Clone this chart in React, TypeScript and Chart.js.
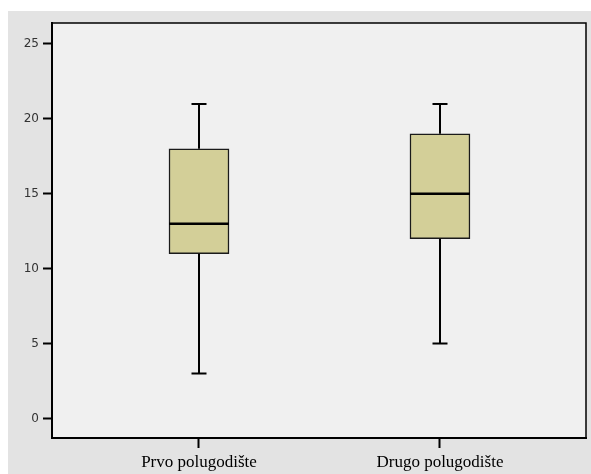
import React, { useEffect, useRef } from 'react';
import { Chart, registerables } from 'chart.js';

Chart.register(...registerables);

const categories = ['Prvo polugodište', 'Drugo polugodište'];
const minValues = [3, 5];
const q1Values = [11, 12];
const medianValues = [13, 15];
const q3Values = [18, 19];
const maxValues = [21, 21];
const yTickValues = [0, 5, 10, 15, 20, 25];

const boxPlugin = {
  id: 'boxExtras',
  beforeDraw(chart: any) {
    const { ctx, chartArea } = chart;
    ctx.save();
    ctx.fillStyle = '#f0f0f0';
    ctx.fillRect(chartArea.left, chartArea.top, chartArea.right - chartArea.left, chartArea.bottom - chartArea.top);
    ctx.restore();
  },
  afterDatasetsDraw(chart: any) {
    const { ctx } = chart;
    const xs = chart.scales.x;
    const ys = chart.scales.y;
    const meta = chart.getDatasetMeta(0);
    ctx.save();
    ctx.strokeStyle = '#000';
    categories.forEach((_, i) => {
      const cx = Math.round(xs.getPixelForValue(i + 1));
      const bar = meta.data[i];
      const half = bar ? bar.width / 2 : 30;
      ctx.lineWidth = 2;
      ctx.beginPath();
      ctx.moveTo(cx, ys.getPixelForValue(q3Values[i]));
      ctx.lineTo(cx, ys.getPixelForValue(maxValues[i]));
      ctx.moveTo(cx, ys.getPixelForValue(q1Values[i]));
      ctx.lineTo(cx, ys.getPixelForValue(minValues[i]));
      ctx.stroke();
      const capHalf = 7.5;
      ctx.beginPath();
      const yMax = ys.getPixelForValue(maxValues[i]);
      const yMin = ys.getPixelForValue(minValues[i]);
      ctx.moveTo(cx - capHalf, yMax);
      ctx.lineTo(cx + capHalf, yMax);
      ctx.moveTo(cx - capHalf, yMin);
      ctx.lineTo(cx + capHalf, yMin);
      ctx.stroke();
      ctx.lineWidth = 2.5;
      const yMed = ys.getPixelForValue(medianValues[i]);
      ctx.beginPath();
      ctx.moveTo(cx - half, yMed);
      ctx.lineTo(cx + half, yMed);
      ctx.stroke();
    });
    ctx.restore();
  },
  afterDraw(chart: any) {
    const { ctx, chartArea } = chart;
    ctx.save();
    ctx.strokeStyle = '#000';
    ctx.lineWidth = 1.5;
    ctx.beginPath();
    ctx.moveTo(chartArea.left, chartArea.top);
    ctx.lineTo(chartArea.right, chartArea.top);
    ctx.lineTo(chartArea.right, chartArea.bottom);
    ctx.stroke();
    ctx.restore();
  },
};

export default function App() {
  const canvasRef = useRef<HTMLCanvasElement | null>(null);

  useEffect(() => {
    if (!canvasRef.current) return;
    const chart = new Chart(canvasRef.current, {
      type: 'bar',
      data: {
        datasets: [
          {
            data: categories.map((_, i) => ({ x: i + 1, y: [q1Values[i], q3Values[i]] })) as any,
            backgroundColor: '#d3cf98',
            borderColor: '#1a1a1a',
            borderWidth: 1.5,
            borderSkipped: false,
            barThickness: 60,
          },
        ],
      },
      options: {
        animation: false,
        responsive: true,
        maintainAspectRatio: false,
        layout: { padding: { top: 12, right: 5, left: 0, bottom: 0 } },
        plugins: { legend: { display: false }, tooltip: { enabled: false }, title: { display: false } },
        scales: {
          x: {
            type: 'linear',
            offset: false,
            min: 0.39,
            max: 2.606,
            afterBuildTicks: (axis: any) => {
              axis.ticks = categories.map((_, i) => ({ value: i + 1 }));
            },
            afterFit: (axis: any) => {
              axis.height = 36;
            },
            ticks: {
              autoSkip: false,
              maxRotation: 0,
              padding: 4,
              color: '#000',
              font: { family: '"Liberation Serif", "Times New Roman", serif', size: 17 },
              callback: (v: any) => categories[Math.round(v) - 1] ?? '',
            },
            grid: { display: true, offset: false, drawOnChartArea: false, drawTicks: true, tickLength: 10, tickColor: '#000', tickWidth: 2 },
            border: { display: true, color: '#000', width: 2 },
          },
          y: {
            type: 'linear',
            min: -1.3,
            max: 26.4,
            afterBuildTicks: (axis: any) => {
              axis.ticks = yTickValues.map((v) => ({ value: v }));
            },
            afterFit: (axis: any) => {
              axis.width = 44;
            },
            ticks: {
              padding: 4,
              color: '#333',
              font: { family: '"DejaVu Sans", sans-serif', size: 12 },
            },
            grid: { display: true, drawOnChartArea: false, drawTicks: true, tickLength: 9, tickColor: '#000', tickWidth: 2 },
            border: { display: true, color: '#000', width: 2 },
          },
        },
      },
      plugins: [boxPlugin],
    });
    return () => chart.destroy();
  }, []);

  return (
    <div
      style={{
        position: 'absolute',
        left: 8,
        top: 11,
        width: 583,
        height: 463,
        background: '#e3e3e3',
      }}
    >
      <canvas ref={canvasRef} style={{ display: 'block' }} />
    </div>
  );
}
